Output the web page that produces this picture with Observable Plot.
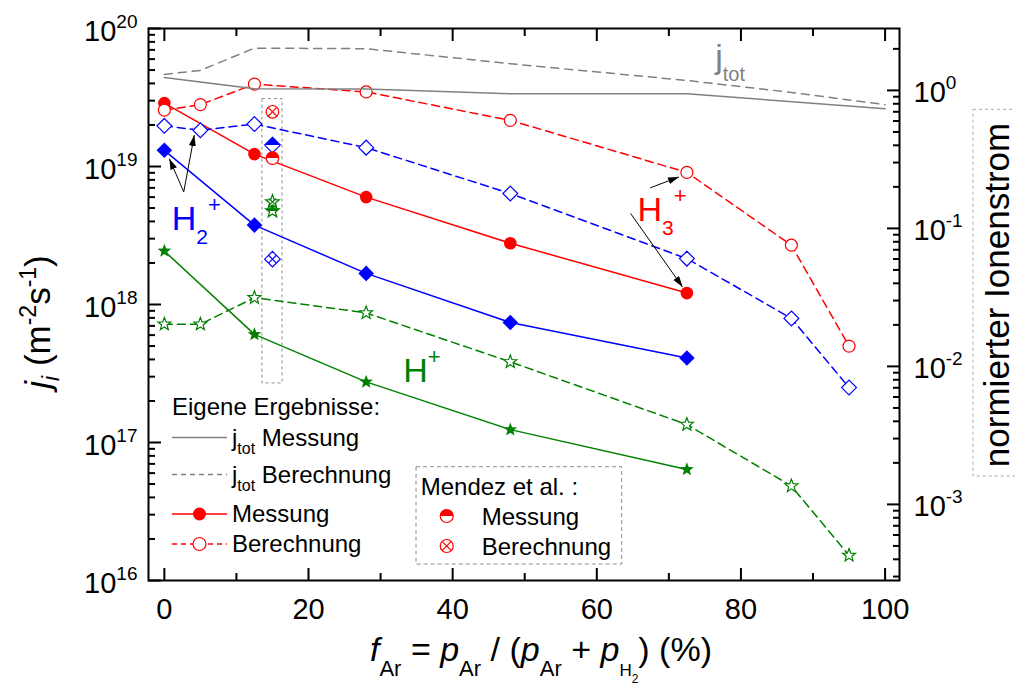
<!DOCTYPE html>
<html><head><meta charset="utf-8">
<script src="https://cdn.jsdelivr.net/npm/d3@7"></script>
<script src="https://cdn.jsdelivr.net/npm/@observablehq/plot@0.6"></script>
<style>
html,body{margin:0;padding:0;background:#fff;}
#chart svg{display:block;overflow:hidden;}
</style></head><body><div id="chart"></div>
<script>
// ---------------- data ----------------
const fArMeasured = [0, 12.5, 28, 48, 72.5];
const h3Measured = [2.88e19, 1.23e19, 6.0e18, 2.78e18, 1.21e18];
const h2Measured = [1.31e19, 3.76e18, 1.68e18, 7.41e17, 4.10e17];
const h1Measured = [2.44e18, 6.07e17, 2.75e17, 1.24e17, 6.37e16];

const fArCalculated = [0, 5, 12.5, 28, 48, 72.5, 87, 95];
const h3Calculated = [2.56e19, 2.81e19, 3.95e19, 3.47e19, 2.16e19, 9.06e18, 2.69e18, 4.99e17];
const h2Calculated = [1.97e19, 1.83e19, 2.03e19, 1.37e19, 6.37e18, 2.15e18, 7.93e17, 2.50e17];
const h1Calculated = [7.2e17, 7.2e17, 1.12e18, 8.69e17, 3.84e17, 1.35e17, 4.84e16, 1.52e16];

// normalised total current (right axis)
const fArTotMeasured = [0, 12.5, 28, 48, 72.5, 100];
const jTotMeasured = [1.242, 1.029, 1.025, 0.946, 0.946, 0.737];
const fArTotCalculated = [0, 5, 12.5, 28, 48, 72.5, 87, 100];
const jTotCalculated = [1.306, 1.396, 2.025, 2.005, 1.561, 1.18, 0.967, 0.788];
const jNorm = 3.56e19; // left-axis flux where the right axis reads 10^0

// Mendez et al. (H3+, H2+, H+)
const fArMendez = [15, 15, 15];
const mendezMeasured = [1.15e19, 1.43e19, 4.76e18];
const mendezCalculated = [2.49e19, 2.13e18, 5.53e18];
const mendezBoxX = [13.6, 16.4];
const mendezBoxY = [2.68e17, 3.08e19];

const ionNames = ["H3", "H2", "H"];
const ionColors = ["#ff0000", "#0000ff", "#008000"];

const xTicks = [0, 20, 40, 60, 80, 100];
const xMinorTicks = [10, 30, 50, 70, 90];
const yExponents = [16, 17, 18, 19, 20];
const rightExponents = [-3, -2, -1, 0];

// annotations
const ionLabelX = [65.7, 1.1, 33.2];
const ionLabelY = [3.97e18, 3.45e18, 2.7e17];
const ionLabelSub = ["3", "2", ""];
const jTotLabelX = 76.5;
const jTotLabelY = 5.15e19;

const arrowX1 = [2.69, 2.69, 67.4, 64.7];
const arrowY1 = [6.55e18, 6.55e18, 7.0e18, 4.56e18];
const arrowX2 = [0.69, 4.16, 71.4, 71.9];
const arrowY2 = [1.14e19, 1.69e19, 8.41e18, 1.34e18];

// ---------------- symbols ----------------
const TAU = 2 * Math.PI;
const rad = s => Math.sqrt(s / Math.PI);
function starPoints(R) {
  const p = [];
  for (let k = 0; k < 10; k++) {
    const a = -Math.PI / 2 + k * Math.PI / 5;
    const rr = k % 2 ? R * 0.42 : R;
    p.push([rr * Math.cos(a), rr * Math.sin(a)]);
  }
  return p;
}
function poly(ctx, p) {
  ctx.moveTo(p[0][0], p[0][1]);
  for (let k = 1; k < p.length; k++) ctx.lineTo(p[k][0], p[k][1]);
  ctx.closePath();
}
function clipUpper(p) {
  const out = [];
  for (let k = 0; k < p.length; k++) {
    const a = p[k], b = p[(k + 1) % p.length];
    const ia = a[1] <= 0, ib = b[1] <= 0;
    if (ia) out.push(a);
    if (ia !== ib) { const t = a[1] / (a[1] - b[1]); out.push([a[0] + t * (b[0] - a[0]), 0]); }
  }
  return out;
}
const symCircle = {draw(ctx, s) { const R = rad(s); ctx.moveTo(R, 0); ctx.arc(0, 0, R, 0, TAU); }};
const symDiamond = {draw(ctx, s) { const R = rad(s); poly(ctx, [[0, -R], [R, 0], [0, R], [-R, 0]]); }};
const symStar = {draw(ctx, s) { poly(ctx, starPoints(rad(s))); }};
const symCircleTop = {draw(ctx, s) { const R = rad(s); ctx.moveTo(R, 0); ctx.arc(0, 0, R, 0, Math.PI, true); ctx.closePath(); }};
const symDiamondTop = {draw(ctx, s) { const R = rad(s); poly(ctx, [[-R, 0], [0, -R], [R, 0]]); }};
const symStarTop = {draw(ctx, s) { poly(ctx, clipUpper(starPoints(rad(s)))); }};
const crossOf = f => ({draw(ctx, s) { const a = rad(s) * f; ctx.moveTo(-a, -a); ctx.lineTo(a, a); ctx.moveTo(-a, a); ctx.lineTo(a, -a); }});
const fillSym = [symCircle, symDiamond, symStar];
const halfSym = [symCircleTop, symDiamondTop, symStarTop];
const crossSym = [crossOf(Math.SQRT1_2), crossOf(0.5), crossOf(0.5)];
const symR = [6.3, 7.8, 7.2];

// ---------------- plot ----------------
const font = "'Liberation Sans', Arial, sans-serif";
const ionMeasured = [h3Measured, h2Measured, h1Measured];
const ionCalculated = [h3Calculated, h2Calculated, h1Calculated];

const seriesMarks = ionNames.flatMap((name, i) => {
  const meas = fArMeasured.map((x, k) => ({x, y: ionMeasured[i][k]}));
  const calc = fArCalculated.map((x, k) => ({x, y: ionCalculated[i][k]}));
  return [
    Plot.line(meas, {x: "x", y: "y", stroke: ionColors[i], strokeWidth: 1.5}),
    Plot.dot(meas, {x: "x", y: "y", symbol: fillSym[i], r: symR[i], fill: ionColors[i], stroke: "none"}),
    Plot.line(calc, {x: "x", y: "y", stroke: ionColors[i], strokeWidth: 1.5, strokeDasharray: "8,5"}),
    Plot.dot(calc, {x: "x", y: "y", symbol: fillSym[i], r: symR[i] * 0.95, fill: "white", stroke: ionColors[i], strokeWidth: 1.2})
  ];
});

const mendezMarks = [1, 0, 2].flatMap(i => {
  const mM = [{x: fArMendez[i], y: mendezMeasured[i]}];
  const mC = [{x: fArMendez[i], y: mendezCalculated[i]}];
  return [
    Plot.dot(mM, {x: "x", y: "y", symbol: fillSym[i], r: symR[i], fill: "white", stroke: ionColors[i], strokeWidth: 1.2}),
    Plot.dot(mM, {x: "x", y: "y", symbol: halfSym[i], r: symR[i], fill: ionColors[i], stroke: "none"}),
    Plot.dot(mC, {x: "x", y: "y", symbol: fillSym[i], r: symR[i], fill: "white", stroke: ionColors[i], strokeWidth: 1.2}),
    Plot.dot(mC, {x: "x", y: "y", symbol: crossSym[i], r: symR[i], fill: "none", stroke: ionColors[i], strokeWidth: 1.2})
  ];
});

const totMeas = fArTotMeasured.map((x, k) => ({x, y: jTotMeasured[k] * jNorm}));
const totCalc = fArTotCalculated.map((x, k) => ({x, y: jTotCalculated[k] * jNorm}));

const yMajor = yExponents.map(e => 10 ** e);
const yMinor = [];
for (const e of yExponents.slice(0, -1)) for (let m = 2; m <= 9; m++) yMinor.push(m * 10 ** e);
const rMajor = rightExponents.map(e => jNorm * 10 ** e);
const rMinor = [];
for (let e = -4; e <= 0; e++) for (let m = 2; m <= 9; m++) {
  const v = jNorm * m * 10 ** e;
  if (v > 1e16 && v < 1e20) rMinor.push(v);
}

const tickStyle = {strokeWidth: 2, fill: "none", label: null, stroke: "black"};

const chart = Plot.plot({
  width: 1015, height: 690,
  marginLeft: 148, marginRight: 116, marginTop: 28, marginBottom: 110,
  style: {fontFamily: font, fontSize: "29px", color: "black", background: "white", overflow: "hidden"},
  x: {domain: [-2.2, 102]},
  y: {type: "log", domain: [1e16, 1e20]},
  marks: [
    Plot.rect([{x1: mendezBoxX[0], x2: mendezBoxX[1], y1: mendezBoxY[0], y2: mendezBoxY[1]}],
      {x1: "x1", x2: "x2", y1: "y1", y2: "y2", fill: "none", stroke: "#8c8c8c", strokeWidth: 1, strokeDasharray: "3,3"}),
    ...seriesMarks,
    ...mendezMarks,
    Plot.line(totMeas, {x: "x", y: "y", stroke: "#808080", strokeWidth: 1.5}),
    Plot.line(totCalc, {x: "x", y: "y", stroke: "#808080", strokeWidth: 1.5, strokeDasharray: "8,6"}),
    Plot.link(arrowX1.map((x, k) => ({x1: x, y1: arrowY1[k], x2: arrowX2[k], y2: arrowY2[k]})),
      {x1: "x1", y1: "y1", x2: "x2", y2: "y2", stroke: "black", strokeWidth: 1}),
    Plot.axisX({anchor: "bottom", ticks: xTicks, tickSize: 0, tickPadding: 18, fontSize: 29, label: null}),
    Plot.axisX({anchor: "bottom", ticks: xTicks, tickSize: -12, ...tickStyle}),
    Plot.axisX({anchor: "bottom", ticks: xMinorTicks, tickSize: -7, ...tickStyle}),
    Plot.axisX({anchor: "top", ticks: xTicks, tickSize: -12, ...tickStyle}),
    Plot.axisX({anchor: "top", ticks: xMinorTicks, tickSize: -7, ...tickStyle}),
    Plot.axisY({anchor: "left", ticks: yMajor, tickSize: 0, tickPadding: 11, dy: 3, fontSize: 29, label: null,
      tickFormat: d => "10|" + Math.round(Math.log10(d))}),
    Plot.axisY({anchor: "left", ticks: yMajor, tickSize: -13, ...tickStyle}),
    Plot.axisY({anchor: "left", ticks: yMinor, tickSize: -7, ...tickStyle}),
    Plot.text(rightExponents, {y: e => jNorm * 10 ** e, text: e => "10|" + e, frameAnchor: "right",
      textAnchor: "start", dx: 14, dy: 2.5, fontSize: 29, fill: "black"}),
    Plot.axisY({anchor: "right", ticks: rMajor, tickSize: -13, ...tickStyle}),
    Plot.axisY({anchor: "right", ticks: rMinor, tickSize: -7, ...tickStyle}),
    Plot.frame({stroke: "black", strokeWidth: 2})
  ]
});
document.getElementById("chart").append(chart);

// ---------------- decorations ----------------
const svg = d3.select(chart);
const sx = v => chart.scale("x").apply(v);
const sy = v => chart.scale("y").apply(v);

// superscript tick labels
svg.selectAll("text").each(function() {
  const s = this.textContent;
  if (!s.includes("|")) return;
  const [b, e] = s.split("|");
  const t = d3.select(this);
  t.text(null);
  t.append("tspan").text(b);
  t.append("tspan").attr("font-size", 19).attr("dy", -13).text(e);
});

// arrowheads
const defs = svg.append("defs");
defs.append("marker").attr("id", "ah").attr("viewBox", "0 0 11 7").attr("refX", 11).attr("refY", 3.5)
  .attr("markerWidth", 11).attr("markerHeight", 7).attr("markerUnits", "userSpaceOnUse").attr("orient", "auto")
  .append("path").attr("d", "M0,0L11,3.5L0,7Z").attr("fill", "black");
svg.selectAll('g[aria-label="link"] path').attr("marker-end", "url(#ah)");

function rich(parent, segs, {x, y, size, fill = "black", anchor = "start", rotate = 0}) {
  const t = parent.append("text").attr("font-family", font).attr("font-size", size).attr("fill", fill)
    .attr("text-anchor", anchor).style("white-space", "pre");
  if (rotate) t.attr("transform", `translate(${x},${y}) rotate(${rotate})`);
  else t.attr("x", x).attr("y", y);
  let cur = 0;
  for (const s of segs) {
    const shift = s.shift || 0;
    const ts = t.append("tspan").text(s.t);
    if (shift - cur) ts.attr("dy", shift - cur);
    cur = shift;
    if (s.size) ts.attr("font-size", s.size);
    if (s.it) ts.attr("font-style", "italic");
  }
  return t;
}

// ion labels
ionNames.forEach((n, i) => {
  const segs = [{t: "H"}];
  if (ionLabelSub[i]) segs.push({t: ionLabelSub[i], size: 21, shift: 14});
  segs.push({t: "+", size: 22, shift: -18});
  rich(svg, segs, {x: sx(ionLabelX[i]), y: sy(ionLabelY[i]), size: 34, fill: ionColors[i]});
});
rich(svg, [{t: "j"}, {t: "tot", size: 20, shift: 13}], {x: sx(jTotLabelX), y: sy(jTotLabelY), size: 34, fill: "#808080"});

// axis titles
rich(svg, [{t: "f", it: 1}, {t: "Ar", size: 22, shift: 15}, {t: " = "}, {t: "p", it: 1}, {t: "Ar", size: 22, shift: 15},
  {t: " / ("}, {t: "p", it: 1}, {t: "Ar", size: 22, shift: 15}, {t: " + "}, {t: "p", it: 1},
  {t: "H", size: 17, shift: 15}, {t: "2", size: 12, shift: 22}, {t: ") (%)"}],
  {x: 541, y: 661, size: 34, anchor: "middle"});
rich(svg, [{t: "j", it: 1}, {t: "i", it: 1, size: 23, shift: 9}, {t: " (m"}, {t: "-2", size: 23, shift: -14},
  {t: "s"}, {t: "-1", size: 23, shift: -14}, {t: ")"}],
  {x: 50, y: 322, size: 35, anchor: "middle", rotate: -90});
svg.append("rect").attr("x", 973).attr("y", 109.3).attr("width", 60).attr("height", 366.7)
  .attr("fill", "none").attr("stroke", "#aaaaaa").attr("stroke-dasharray", "3,3");
rich(svg, [{t: "normierter Ionenstrom"}], {x: 1009, y: 295, size: 35, anchor: "middle", rotate: -90});

// legend 1
const lg = svg.append("g");
rich(lg, [{t: "Eigene Ergebnisse:"}], {x: 172, y: 415, size: 24});
const legRows = [
  {y: 437.5, color: "#808080", dash: null, sym: null, segs: [{t: "j"}, {t: "tot", size: 16, shift: 8}, {t: " Messung"}]},
  {y: 474.5, color: "#808080", dash: "5,4", sym: null, segs: [{t: "j"}, {t: "tot", size: 16, shift: 8}, {t: " Berechnung"}]},
  {y: 514, color: ionColors[0], dash: null, sym: "fill", segs: [{t: "Messung"}]},
  {y: 544, color: ionColors[0], dash: "5,4", sym: "open", segs: [{t: "Berechnung"}]}
];
legRows.forEach(r => {
  lg.append("line").attr("x1", 172).attr("x2", 227).attr("y1", r.y).attr("y2", r.y)
    .attr("stroke", r.color).attr("stroke-width", 1.5).attr("stroke-dasharray", r.dash);
  if (r.sym) {
    lg.append("path").attr("d", d3.symbol(symCircle, Math.PI * 6.5 * 6.5)())
      .attr("transform", `translate(199.5,${r.y})`)
      .attr("fill", r.sym === "fill" ? r.color : "white").attr("stroke", r.color).attr("stroke-width", r.sym === "fill" ? 0 : 1.2);
  }
  rich(lg, r.segs, {x: 232, y: r.y + 8, size: 24});
});

// legend 2
const lg2 = svg.append("g");
lg2.append("rect").attr("x", 416).attr("y", 466.7).attr("width", 205.7).attr("height", 97.3)
  .attr("fill", "white").attr("stroke", "#8c8c8c").attr("stroke-dasharray", "4,3");
rich(lg2, [{t: "Mendez et al. :"}], {x: 420.7, y: 495, size: 24});
const s2 = Math.PI * 6.5 * 6.5;
lg2.append("path").attr("d", d3.symbol(symCircle, s2)()).attr("transform", "translate(446.7,516)")
  .attr("fill", "white").attr("stroke", ionColors[0]).attr("stroke-width", 1.2);
lg2.append("path").attr("d", d3.symbol(symCircleTop, s2)()).attr("transform", "translate(446.7,516)")
  .attr("fill", ionColors[0]);
lg2.append("path").attr("d", d3.symbol(symCircle, s2)()).attr("transform", "translate(446.7,546)")
  .attr("fill", "white").attr("stroke", ionColors[0]).attr("stroke-width", 1.2);
lg2.append("path").attr("d", d3.symbol(crossSym[0], s2)()).attr("transform", "translate(446.7,546)")
  .attr("fill", "none").attr("stroke", ionColors[0]).attr("stroke-width", 1.2);
rich(lg2, [{t: "Messung"}], {x: 481.7, y: 525, size: 24});
rich(lg2, [{t: "Berechnung"}], {x: 481.7, y: 555, size: 24});
</script>
</body></html>
